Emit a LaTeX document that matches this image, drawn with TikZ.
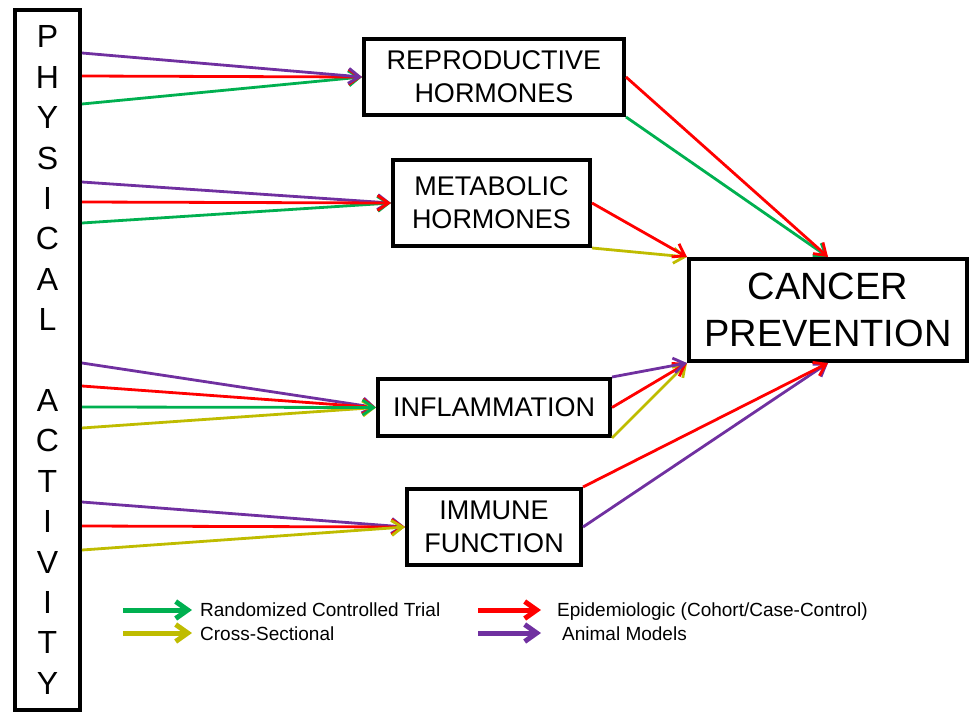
\documentclass[tikz,border=0pt]{standalone}
\usepackage{fontspec}
\setmainfont{Liberation Sans}
\usepackage{tikz}
\usetikzlibrary{arrows.meta}
\definecolor{rctgreen}{RGB}{0,176,80}
\definecolor{epired}{RGB}{255,0,0}
\definecolor{xsecolive}{RGB}{191,188,0}
\definecolor{animpurple}{RGB}{112,48,160}
\tikzstyle{box}=[rectangle, draw, line width=4pt, inner sep=0pt, align=center, font=\fontsize{27}{33}\selectfont]
\tikzstyle{link}=[line width=2.8pt, -{Straight Barb[length=11pt,width=15pt]}]
\tikzstyle{legarrow}=[line width=5pt, -{Straight Barb[length=12pt,width=17pt]}]
\tikzstyle{legtext}=[anchor=base west, inner sep=0pt, font=\fontsize{19}{22}\selectfont]

\begin{document}
\begin{tikzpicture}[x=1pt,y=-1pt]
    \useasboundingbox (0,0) rectangle (969,715);

    % the boxes
    \node[box, minimum width=65pt, minimum height=700pt, font=\fontsize{32}{40.4}\selectfont] (pa) at (47.5,360)
      {P\\H\\Y\\S\\I\\C\\A\\L\\[40.4pt]A\\C\\T\\I\\V\\I\\T\\Y};
    \node[box, minimum width=260pt, minimum height=76pt] (rep) at (494,77) {REPRODUCTIVE\\HORMONES};
    \node[box, minimum width=197pt, minimum height=86pt] (met) at (491.5,203) {METABOLIC\\HORMONES};
    \node[box, minimum width=232pt, minimum height=57pt] (inf) at (494,407.5) {INFLAMMATION};
    \node[box, minimum width=174pt, minimum height=76pt] (imm) at (494,527) {IMMUNE\\FUNCTION};
    \node[box, minimum width=278pt, minimum height=102pt, font=\fontsize{38}{47}\selectfont] (can) at (828,310)
      {CANCER\\PREVENTION};

    % arrows out of the physical activity column, using a loop
    \foreach \yy/\cc in {104/rctgreen, 76/epired, 53/animpurple}
    \draw[link, \cc] (pa.east |- 0,\yy) -- (rep.west);
    \foreach \yy/\cc in {182/animpurple, 223/rctgreen, 202/epired}
    \draw[link, \cc] (pa.east |- 0,\yy) -- (met.west);
    \foreach \yy/\cc in {363/animpurple, 386/epired, 428/xsecolive, 407/rctgreen}
    \draw[link, \cc] (pa.east |- 0,\yy) -- (inf.west);
    \foreach \yy/\cc in {502/animpurple, 526/epired, 550/xsecolive}
    \draw[link, \cc] (pa.east |- 0,\yy) -- (imm.west);

    % arrows into cancer prevention
    \draw[link, rctgreen] (rep.south east) -- (can.north);
    \draw[link, epired] (rep.east) -- (can.north);
    \draw[link, xsecolive] (met.south east) -- (can.north west);
    \draw[link, epired] (met.east) -- (can.north west);
    \draw[link, xsecolive] (inf.south east) -- (can.south west);
    \draw[link, epired] (inf.east) -- (can.south west);
    \draw[link, animpurple] (inf.north east) -- (can.south west);
    \draw[link, animpurple] (imm.east) -- (can.south);
    \draw[link, epired] (imm.north east) -- (can.south);

    % legend
    \node[legtext] (rct) at (200,616) {Randomized Controlled Trial};
    \node[legtext] (xsec) at (200,640) {Cross-Sectional};
    \node[legtext] (epi) at (557,616) {Epidemiologic (Cohort/Case-Control)};
    \node[legtext] (anim) at (562,640) {Animal Models};
    \coordinate (rct0) at (123,610);
    \coordinate (xsec0) at (123,633);
    \coordinate (epi0) at (478,610);
    \coordinate (anim0) at (478,633);
    \draw[legarrow, rctgreen, shorten >=8pt] (rct0) -- (rct0 -| rct.west);
    \draw[legarrow, xsecolive, shorten >=8pt] (xsec0) -- (xsec0 -| xsec.west);
    \draw[legarrow, epired, shorten >=16pt] (epi0) -- (epi0 -| epi.west);
    \draw[legarrow, animpurple, shorten >=21pt] (anim0) -- (anim0 -| anim.west);
\end{tikzpicture}
\end{document}
